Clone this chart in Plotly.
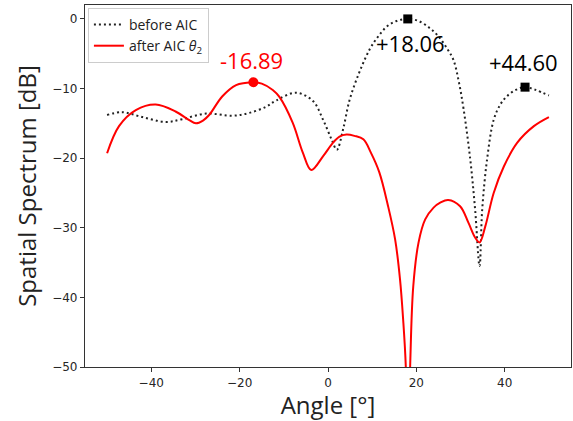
import plotly.graph_objects as go

# before AIC (dotted black)
before_x = [-50, -46.6, -42, -36.7, -33, -27.6, -21.6, -17.8, -14, -11.7, -7.2, -3.4, -1.1, 0.8, 2.0, 3.4, 4.9, 7.2, 9.5, 11.5, 13.3, 15.5, 18.06, 20.5, 23, 25, 27, 28.4, 29.6, 30.7, 32.2, 33.3, 34.3, 34.9, 36.0, 37.5, 39, 40.5, 42.5, 44.6, 47, 50]
before_y = [-13.8, -13.4, -14.1, -14.8, -14.4, -13.6, -13.9, -13.5, -12.6, -11.7, -10.6, -11.8, -14.5, -17.3, -18.8, -15.9, -11.6, -7.5, -4.3, -2.4, -1.1, -0.3, 0.0, -0.3, -1.3, -2.5, -4.3, -5.9, -9.0, -13.0, -20.2, -27.4, -35.5, -27.4, -20.2, -14.5, -12.3, -11.1, -10.2, -9.8, -10.2, -11.0]

# after AIC (red)
after_x = [-50, -47.3, -43.5, -39, -34.5, -31.5, -29.9, -28.3, -26.9, -23.9, -20.8, -18.8, -16.89, -15, -12.5, -11, -8, -5.7, -3.8, -1.1, 1.1, 2.6, 4.2, 6, 8, 9.7, 11.6, 13.6, 15.2, 16.3, 17.0, 17.6, 18.06, 18.6, 19.3, 20.5, 22.0, 23.9, 25.4, 27.2, 29.9, 31.8, 33.3, 34.3, 35.6, 37.5, 39.8, 42.8, 46.6, 50]
after_y = [-19.3, -15.4, -13.1, -12.3, -13.3, -14.5, -15.0, -14.6, -13.8, -11.1, -9.5, -9.2, -9.1, -9.3, -10.2, -11.2, -14.9, -19.2, -21.7, -19.7, -17.8, -16.9, -16.6, -16.8, -17.3, -19.2, -22.0, -26.9, -31.7, -37.4, -43.1, -49.8, -65.0, -49.8, -38.4, -32.1, -28.8, -27.1, -26.4, -26.0, -26.9, -29.3, -31.4, -32.1, -29.8, -25.0, -21.2, -17.8, -15.4, -14.1]

peak_before_x = [18.06, 44.60]
peak_before_y = [0.0, -9.8]
peak_before_labels = ["+18.06", "+44.60"]
peak_after_x = [-16.89]
peak_after_y = [-9.1]
peak_after_labels = ["-16.89"]

fig = go.Figure()
fig.add_trace(go.Scatter(x=before_x, y=before_y, mode="lines", name="before AIC",
                         line=dict(color="#222222", width=2, dash="2px,3px", shape="spline", smoothing=1.0)))
fig.add_trace(go.Scatter(x=after_x, y=after_y, mode="lines", name="after AIC <i>θ</i><sub>2</sub>",
                         line=dict(color="#ff0000", width=2, shape="spline", smoothing=1.0)))
fig.add_trace(go.Scatter(x=peak_before_x, y=peak_before_y, mode="markers", showlegend=False,
                         marker=dict(symbol="square", size=9, color="black")))
fig.add_trace(go.Scatter(x=peak_after_x, y=peak_after_y, mode="markers", showlegend=False,
                         marker=dict(symbol="circle", size=10, color="#ff0000")))

fig.add_annotation(x=peak_before_x[0], y=peak_before_y[0], text=peak_before_labels[0], showarrow=False,
                   xshift=3, yshift=-24, font=dict(size=22, color="black", family="Open Sans"))
fig.add_annotation(x=peak_before_x[1], y=peak_before_y[1], text=peak_before_labels[1], showarrow=False,
                   xshift=-2, yshift=25, font=dict(size=22, color="black", family="Open Sans"))
fig.add_annotation(x=peak_after_x[0], y=peak_after_y[0], text=peak_after_labels[0], showarrow=False,
                   xshift=-2, yshift=22, font=dict(size=22, color="#ff0000", family="Open Sans"))

axis_common = dict(showline=True, linecolor="#333333", linewidth=1.2, mirror=True,
                   ticks="outside", ticklen=4, tickcolor="#333333", showgrid=False, zeroline=False,
                   tickfont=dict(family="DejaVu Sans", size=12, color="#262626"))
fig.update_xaxes(range=[-55, 55], tickvals=[-40, -20, 0, 20, 40],
                 title=dict(text="Angle [°]", font=dict(family="Open Sans", size=24, color="#222222"), standoff=2),
                 **axis_common)
fig.update_yaxes(range=[-50, 2], tickvals=[0, -10, -20, -30, -40, -50],
                 title=dict(text="Spatial Spectrum [dB]", font=dict(family="Open Sans", size=24, color="#222222"), standoff=8),
                 **axis_common)

fig.update_layout(
    width=573, height=421,
    margin=dict(l=85, r=2, t=5, b=54),
    plot_bgcolor="white", paper_bgcolor="white",
    legend=dict(x=0.006, y=0.992, xanchor="left", yanchor="top", bgcolor="white",
                bordercolor="#cccccc", borderwidth=1,
                font=dict(family="Open Sans", size=14, color="#222222"),
                tracegroupgap=0, itemwidth=30),
)
fig.write_html("out.html")
